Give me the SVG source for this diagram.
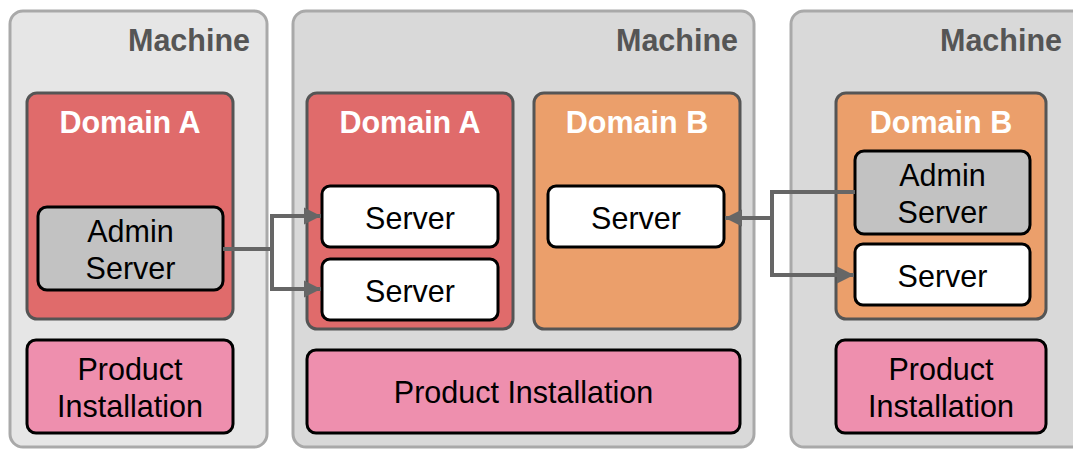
<svg xmlns="http://www.w3.org/2000/svg" width="1073" height="449" viewBox="0 0 1073 449">
  <defs>
    <marker id="arrow" viewBox="0 0 10 10" refX="10" refY="5" markerWidth="4.3" markerHeight="4.3" markerUnits="strokeWidth" orient="auto">
      <path d="M0,0 L10,5 L0,10 Z" fill="#666"/>
    </marker>
    <style>
      .machine { fill: #d9d9d9; stroke: #a9a9a9; stroke-width: 3; }
      .machine.light { fill: #e6e6e6; }
      .domA { fill: #e06b6b; stroke: #555; stroke-width: 3; }
      .domB { fill: #eb9f6b; stroke: #555; stroke-width: 3; }
      .admin { fill: #c2c2c2; stroke: #000; stroke-width: 3; }
      .server { fill: #fff; stroke: #000; stroke-width: 3; }
      .install { fill: #ee8fae; stroke: #000; stroke-width: 3; }
      .mlabel { font-family: "Liberation Sans", Arial, sans-serif; font-weight: bold; font-size: 30.5px; fill: #555; text-anchor: end; }
      .dlabel { font-family: "Liberation Sans", Arial, sans-serif; font-weight: bold; font-size: 30.5px; fill: #fff; text-anchor: middle; }
      .label { font-family: "Liberation Sans", Arial, sans-serif; font-size: 30.5px; fill: #000; text-anchor: middle; }
      .link { fill: none; stroke: #666; stroke-width: 4; }
    </style>
  </defs>
  <rect width="1073" height="449" fill="#fff"/>

  <!-- Machine 1 -->
  <g id="machine1">
    <rect class="machine light" x="10" y="11" width="257" height="436" rx="13"/>
    <text class="mlabel" x="250" y="51">Machine</text>
  </g>
  <g id="m1-domainA">
    <rect class="domA" x="27" y="93" width="206" height="226" rx="10"/>
    <text class="dlabel" x="130" y="133">Domain A</text>
  </g>
  <g id="m1-admin">
    <rect class="admin" x="38" y="207" width="185" height="83" rx="9"/>
    <text class="label" x="130.5" y="242">Admin</text>
    <text class="label" x="130.5" y="279">Server</text>
  </g>
  <g id="m1-install">
    <rect class="install" x="27" y="340" width="206" height="93" rx="9"/>
    <text class="label" x="130" y="380">Product</text>
    <text class="label" x="130" y="417">Installation</text>
  </g>

  <!-- Machine 2 -->
  <g id="machine2">
    <rect class="machine" x="293" y="11" width="461" height="436" rx="13"/>
    <text class="mlabel" x="738" y="51">Machine</text>
  </g>
  <g id="m2-domainA">
    <rect class="domA" x="307" y="93" width="206" height="236" rx="10"/>
    <text class="dlabel" x="410" y="133">Domain A</text>
  </g>
  <g id="m2-serverA1">
    <rect class="server" x="322" y="186" width="176" height="61" rx="8"/>
    <text class="label" x="410" y="229">Server</text>
  </g>
  <g id="m2-serverA2">
    <rect class="server" x="322" y="259" width="176" height="61" rx="8"/>
    <text class="label" x="410" y="302">Server</text>
  </g>
  <g id="m2-domainB">
    <rect class="domB" x="534" y="93" width="206" height="236" rx="10"/>
    <text class="dlabel" x="637" y="133">Domain B</text>
  </g>
  <g id="m2-serverB">
    <rect class="server" x="548" y="186" width="176" height="61" rx="8"/>
    <text class="label" x="636" y="229">Server</text>
  </g>
  <g id="m2-install">
    <rect class="install" x="307" y="350" width="433" height="83" rx="9"/>
    <text class="label" x="523.5" y="403">Product Installation</text>
  </g>

  <!-- Machine 3 -->
  <g id="machine3">
    <rect class="machine" x="791" y="11" width="300" height="436" rx="13"/>
    <text class="mlabel" x="1062" y="51">Machine</text>
  </g>
  <g id="m3-domainB">
    <rect class="domB" x="836" y="93" width="210" height="226" rx="10"/>
    <text class="dlabel" x="941" y="133">Domain B</text>
  </g>
  <g id="m3-admin">
    <rect class="admin" x="855" y="151" width="175" height="83" rx="9"/>
    <text class="label" x="942.5" y="186">Admin</text>
    <text class="label" x="942.5" y="223">Server</text>
  </g>
  <g id="m3-server">
    <rect class="server" x="855" y="244" width="175" height="61" rx="8"/>
    <text class="label" x="942.5" y="287">Server</text>
  </g>
  <g id="m3-install">
    <rect class="install" x="836" y="340" width="210" height="93" rx="9"/>
    <text class="label" x="941" y="380">Product</text>
    <text class="label" x="941" y="417">Installation</text>
  </g>

  <!-- Connectors -->
  <g id="connectors">
    <path class="link" d="M223,249 H272 V216 H321" marker-end="url(#arrow)"/>
    <path class="link" d="M272,249 V289 H321" marker-end="url(#arrow)"/>
    <path class="link" d="M855,192 H772 V218 H725" marker-end="url(#arrow)"/>
    <path class="link" d="M772,218 V275 H854" marker-end="url(#arrow)"/>
  </g>
</svg>
